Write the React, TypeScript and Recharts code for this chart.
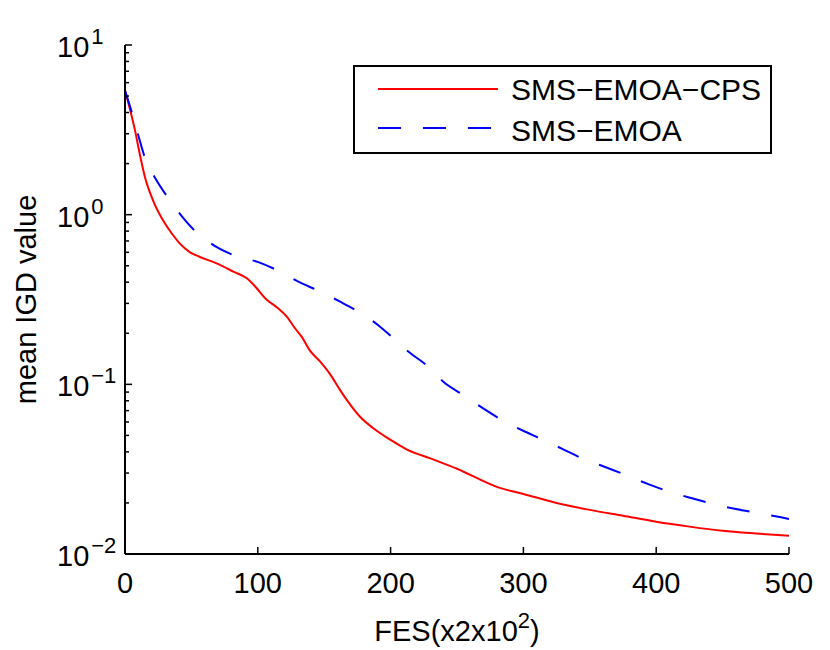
import { LineChart, Line, XAxis, YAxis, Legend } from "recharts";

const FONT = "'Liberation Sans', Arial, Helvetica, sans-serif";

const seriesNames = ["SMS\u2212EMOA\u2212CPS", "SMS\u2212EMOA"];

// SMS-EMOA-CPS (red, solid)
const cpsX = [0, 4, 7.5, 11, 15, 21, 30, 35, 41, 49, 56, 69, 82, 92, 97, 107, 114, 122, 128, 133, 139, 147, 154, 162, 167, 177, 187, 200, 212, 230, 250, 281, 300, 325, 350, 375, 400, 425, 450, 475, 500];
const cpsIgd = [5.4, 4.1, 3.15, 2.3, 1.67, 1.22, 0.89, 0.78, 0.68, 0.6, 0.565, 0.516, 0.46, 0.42, 0.385, 0.314, 0.286, 0.25, 0.214, 0.191, 0.159, 0.136, 0.116, 0.0925, 0.081, 0.0644, 0.0551, 0.047, 0.0414, 0.0366, 0.0318, 0.0247, 0.0226, 0.02, 0.0182, 0.0168, 0.0155, 0.0145, 0.0137, 0.0132, 0.0128];

// SMS-EMOA (blue, dashed)
const emoaX = [0, 5, 10, 14.6, 22.6, 31.4, 42.7, 53.5, 67.8, 82.3, 100.4, 115.4, 130.5, 145.6, 162, 175.7, 190.7, 202, 213.3, 228.4, 239.7, 254.7, 268.6, 283.7, 298.7, 315, 330, 346, 361, 379, 394, 410, 427, 443, 460, 477, 494, 500];
const emoaIgd = [5.4, 4.04, 2.94, 2.21, 1.65, 1.29, 0.98, 0.79, 0.653, 0.575, 0.525, 0.467, 0.403, 0.356, 0.307, 0.268, 0.223, 0.187, 0.156, 0.127, 0.1035, 0.0865, 0.0731, 0.0617, 0.0538, 0.047, 0.0414, 0.0361, 0.0327, 0.0288, 0.0258, 0.0233, 0.0213, 0.0197, 0.0184, 0.0174, 0.01645, 0.0161];

const xTicks = [0, 100, 200, 300, 400, 500];
const yDecades = [-2, -1, 0, 1];
const yMinorSteps = [2, 3, 4, 5, 6, 7, 8, 9];

const cpsData = cpsX.map((x, i) => ({ x, igd: cpsIgd[i] }));
const emoaData = emoaX.map((x, i) => ({ x, igd: emoaIgd[i] }));

const yTicks: number[] = [];
yDecades.forEach((d) => {
  yTicks.push(Math.pow(10, d));
  if (d < 1) yMinorSteps.forEach((m) => yTicks.push(m * Math.pow(10, d)));
});

const isMajor = (v: number) => Math.abs(Math.log10(v) - Math.round(Math.log10(v))) < 1e-6;

const BottomTick = (props: any) => {
  const { x, y, payload } = props;
  return (
    <g>
      <line x1={x} x2={x} y1={y} y2={y - 7} stroke="#000" strokeWidth={1.5} />
      <text x={x} y={y + 39} textAnchor="middle" fontSize={29} fontFamily={FONT} fill="#000">
        {payload.value}
      </text>
    </g>
  );
};

const TopTick = (props: any) => {
  const { x, y } = props;
  return <line x1={x} x2={x} y1={y} y2={y + 7} stroke="#000" strokeWidth={1.5} />;
};

const LeftTick = (props: any) => {
  const { x, y, payload } = props;
  const v = payload.value;
  const major = isMajor(v);
  const exp = Math.round(Math.log10(v));
  return (
    <g>
      <line x1={x} x2={x + (major ? 7 : 4)} y1={y} y2={y} stroke="#000" strokeWidth={1.5} />
      {major && (
        <text x={x - 68} y={y + 12} fontSize={29} fontFamily={FONT} fill="#000">
          <tspan>10</tspan>
          <tspan dx={2} dy={-13} fontSize={22}>
            {exp < 0 ? "\u2212" + Math.abs(exp) : String(exp)}
          </tspan>
        </text>
      )}
    </g>
  );
};

const RightTick = (props: any) => {
  const { x, y, payload } = props;
  const major = isMajor(payload.value);
  return <line x1={x} x2={x - (major ? 7 : 4)} y1={y} y2={y} stroke="#000" strokeWidth={1.5} />;
};

const renderLegend = (props: any) => {
  const payload = [...(props.payload || [])].sort(
    (a: any, b: any) => seriesNames.indexOf(a.value) - seriesNames.indexOf(b.value)
  );
  return (
    <svg width={419} height={89} style={{ display: "block" }}>
      <rect x={1} y={1} width={417} height={87} fill="#fff" stroke="#000" strokeWidth={2} />
      {payload.map((entry: any, i: number) => (
        <g key={entry.value}>
          <line
            x1={25}
            x2={145}
            y1={24 + 39 * i}
            y2={24 + 39 * i}
            stroke={entry.color}
            strokeWidth={2}
            strokeDasharray={entry.payload?.strokeDasharray}
          />
          <text x={158} y={35 + 41 * i} fontSize={30} fontFamily={FONT} fill="#000">
            {entry.value}
          </text>
        </g>
      ))}
    </svg>
  );
};

const XLabel = (props: any) => {
  const vb = props.viewBox || {};
  const cx = (vb.x ?? 125) + (vb.width ?? 664) / 2;
  return (
    <text x={cx} y={641} textAnchor="middle" fontSize={29} fontFamily={FONT} fill="#000">
      <tspan>FES(x2x10</tspan>
      <tspan dy={-13} fontSize={22}>2</tspan>
      <tspan dy={13}>)</tspan>
    </text>
  );
};

const YLabel = (props: any) => {
  const vb = props.viewBox || {};
  const cy = (vb.y ?? 45) + (vb.height ?? 509) / 2;
  return (
    <text
      x={36}
      y={cy}
      transform={`rotate(-90, 36, ${cy})`}
      textAnchor="middle"
      fontSize={29}
      fontFamily={FONT}
      fill="#000"
    >
      mean IGD value
    </text>
  );
};

export default function App() {
  return (
    <div style={{ position: "absolute", left: 0, top: 0, background: "#fff" }}>
      <LineChart width={830} height={650} margin={{ top: 45, right: 41, bottom: 0, left: 0 }}>
        <XAxis
          type="number"
          dataKey="x"
          domain={[0, 500]}
          ticks={xTicks}
          interval={0}
          height={96}
          tickSize={0}
          tickMargin={0}
          tickLine={false}
          axisLine={{ stroke: "#000", strokeWidth: 2 }}
          tick={<BottomTick />}
          label={<XLabel />}
          allowDataOverflow
        />
        <XAxis
          xAxisId="top"
          orientation="top"
          type="number"
          dataKey="x"
          domain={[0, 500]}
          ticks={xTicks}
          interval={0}
          height={0}
          tickSize={0}
          tickMargin={0}
          tickLine={false}
          axisLine={{ stroke: "#000", strokeWidth: 2 }}
          tick={<TopTick />}
          allowDataOverflow
        />
        <YAxis
          scale="log"
          type="number"
          domain={[0.01, 10]}
          ticks={yTicks}
          interval={0}
          width={125}
          tickSize={0}
          tickMargin={0}
          tickLine={false}
          axisLine={{ stroke: "#000", strokeWidth: 2 }}
          tick={<LeftTick />}
          label={<YLabel />}
          allowDataOverflow
        />
        <YAxis
          yAxisId="right"
          orientation="right"
          scale="log"
          type="number"
          domain={[0.01, 10]}
          ticks={yTicks}
          interval={0}
          width={0}
          tickSize={0}
          tickMargin={0}
          tickLine={false}
          axisLine={{ stroke: "#000", strokeWidth: 2 }}
          tick={<RightTick />}
          allowDataOverflow
        />
        <Legend
          layout="horizontal"
          verticalAlign="middle"
          align="center"
          content={renderLegend}
          wrapperStyle={{ position: "absolute", left: 353, top: 65, right: "auto", bottom: "auto", width: 419, height: 89 }}
        />
        <Line
          data={cpsData}
          dataKey="igd"
          name={seriesNames[0]}
          type="monotone"
          stroke="#ff0000"
          strokeWidth={2}
          dot={false}
          activeDot={false}
          isAnimationActive={false}
        />
        <Line
          data={emoaData}
          dataKey="igd"
          name={seriesNames[1]}
          type="monotone"
          stroke="#0000ff"
          strokeWidth={2}
          strokeDasharray="23 22"
          dot={false}
          activeDot={false}
          isAnimationActive={false}
        />
      </LineChart>
    </div>
  );
}
